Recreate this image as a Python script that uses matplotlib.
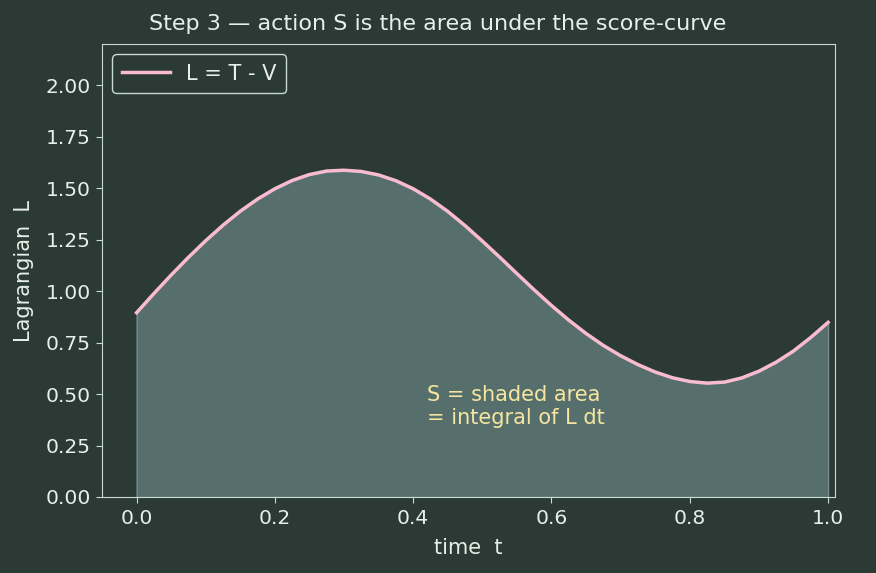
import matplotlib
matplotlib.use("Agg")
import matplotlib.pyplot as plt

t_values = [0.000, 0.025, 0.050, 0.075, 0.100, 0.125, 0.150, 0.175, 0.200, 0.225,
            0.250, 0.275, 0.300, 0.325, 0.350, 0.375, 0.400, 0.425, 0.450, 0.475,
            0.500, 0.525, 0.550, 0.575, 0.600, 0.625, 0.650, 0.675, 0.700, 0.725,
            0.750, 0.775, 0.800, 0.825, 0.850, 0.875, 0.900, 0.925, 0.950, 0.975, 1.000]
L_values = [0.895, 0.988, 1.078, 1.164, 1.245, 1.320, 1.388, 1.447, 1.497, 1.537,
            1.566, 1.583, 1.587, 1.581, 1.564, 1.536, 1.497, 1.447, 1.387, 1.318,
            1.243, 1.165, 1.085, 1.006, 0.930, 0.859, 0.794, 0.736, 0.686, 0.643,
            0.607, 0.579, 0.561, 0.553, 0.558, 0.578, 0.611, 0.655, 0.709, 0.775, 0.848]
x_ticks = [0.0, 0.2, 0.4, 0.6, 0.8, 1.0]
y_ticks = [0.00, 0.25, 0.50, 0.75, 1.00, 1.25, 1.50, 1.75, 2.00]

BG = "#2b3a34"
FG = "#e8efe9"
SPINE = "#c8dcd2"

fig = plt.figure(figsize=(8.76, 5.73), dpi=100, facecolor=BG)
ax = fig.add_axes([102/876, 1-497/573, (835-102)/876, (497-44)/573])
ax.set_facecolor(BG)

ax.fill_between(t_values, 0, L_values, color="#6f8d8b", alpha=0.65, lw=1,
                edgecolor="#8fa8a5")
ax.plot(t_values, L_values, color="#f8bbd0", lw=2.5, label="L = T - V",
        solid_joinstyle="round")

ax.set_xlim(-0.05, 1.01)
ax.set_ylim(0, 2.2)
ax.set_xticks(x_ticks)
ax.set_yticks(y_ticks)
ax.set_xticklabels([f"{v:.1f}" for v in x_ticks])
ax.set_yticklabels([f"{v:.2f}" for v in y_ticks])

for s in ax.spines.values():
    s.set_color(SPINE)
ax.tick_params(colors=SPINE, labelcolor=FG, labelsize=14.6, length=4.5)
ax.tick_params(axis="x", pad=4.5)

ax.set_xlabel("time  t", color=FG, fontsize=15, labelpad=7)
ax.set_ylabel("Lagrangian  L", color=FG, fontsize=15, labelpad=8)
fig.text(0.5, 1 - 24/573, "Step 3 \u2014 action S is the area under the score-curve",
         color=FG, fontsize=16, ha="center", va="center")

ax.text(0.42, 0.44, "S = shaded area\n= integral of L dt", color="#f5e6a0",
        fontsize=15, va="center", ha="left")

leg = ax.legend(loc="upper left", fontsize=15, facecolor=BG, edgecolor=SPINE,
                labelcolor=FG, framealpha=1, handlelength=2.3, borderpad=0.45)

fig.savefig("out.png", dpi=100, facecolor=BG)
